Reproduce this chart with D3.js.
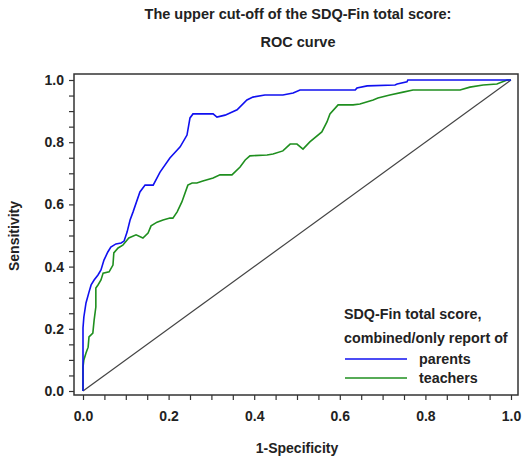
<!DOCTYPE html>
<html><head><meta charset="utf-8">
<script src="https://cdn.jsdelivr.net/npm/d3@7"></script>
<style>body{margin:0;background:#fff}svg{display:block}text{font-family:"Liberation Sans",Arial,sans-serif;fill:#222;font-weight:bold}</style>
</head><body><svg id="c" width="523" height="463"></svg>
<script>
const parentsFpr = [0,0,0,0.002,0.007,0.014,0.019,0.026,0.035,0.042,0.049,0.058,0.065,0.077,0.089,0.096,0.103,0.110,0.117,0.133,0.145,0.164,0.180,0.203,0.227,0.243,0.250,0.257,0.304,0.313,0.332,0.360,0.383,0.397,0.425,0.467,0.491,0.507,0.636,0.640,0.664,0.729,0.734,0.757,0.759,1.0];
const parentsTpr = [0,0.084,0.203,0.238,0.283,0.318,0.341,0.357,0.373,0.389,0.421,0.447,0.463,0.473,0.476,0.482,0.511,0.550,0.576,0.640,0.662,0.662,0.704,0.749,0.785,0.823,0.878,0.891,0.891,0.881,0.887,0.904,0.936,0.945,0.952,0.952,0.958,0.968,0.968,0.974,0.981,0.984,0.987,0.994,1,1];
const teachersFpr = [0,0,0.002,0.007,0.012,0.014,0.023,0.026,0.030,0.030,0.035,0.042,0.047,0.061,0.070,0.072,0.082,0.093,0.107,0.124,0.140,0.152,0.159,0.173,0.187,0.203,0.210,0.220,0.231,0.245,0.255,0.266,0.280,0.304,0.320,0.348,0.367,0.379,0.390,0.430,0.444,0.467,0.484,0.500,0.514,0.530,0.558,0.570,0.577,0.596,0.631,0.647,0.678,0.689,0.717,0.748,0.771,0.881,0.904,0.935,0.967,0.991,1];
const teachersTpr = [0,0.077,0.100,0.122,0.141,0.174,0.186,0.228,0.270,0.331,0.341,0.357,0.379,0.383,0.405,0.444,0.460,0.469,0.492,0.502,0.492,0.508,0.531,0.543,0.550,0.556,0.556,0.576,0.608,0.662,0.669,0.669,0.675,0.685,0.695,0.695,0.720,0.743,0.756,0.759,0.762,0.772,0.794,0.794,0.778,0.801,0.833,0.865,0.891,0.920,0.920,0.923,0.936,0.942,0.952,0.961,0.968,0.968,0.977,0.984,0.987,1,1];
const diagonal = [0,1];
const tickValues = [0,0.05,0.1,0.15,0.2,0.25,0.3,0.35,0.4,0.45,0.5,0.55,0.6,0.65,0.7,0.75,0.8,0.85,0.9,0.95,1];
const tickLabels = ["0.0","0.2","0.4","0.6","0.8","1.0"];
const titleLines = ["The upper cut-off of the SDQ-Fin total score:","ROC curve"];
const legendTitle = ["SDQ-Fin total score,","combined/only report of"];
const seriesNames = ["parents","teachers"];
const colors = ["#1010f0","#1f8f1f"];

const svg = d3.select("#c");
const frame = {l:74, t:74, r:518, b:395};
const x = d3.scaleLinear().domain([0,1]).range([83,511]);
const y = d3.scaleLinear().domain([0,1]).range([391,80]);

const fmt = v => { const i = Math.round(v*20); return i%4===0 ? tickLabels[i/4] : ""; };

const ya = svg.append("g").attr("transform",`translate(${frame.l},0)`)
  .call(d3.axisLeft(y).tickValues(tickValues).tickSize(5).tickPadding(5).tickFormat(fmt));
const xa = svg.append("g").attr("transform",`translate(0,${frame.b})`)
  .call(d3.axisBottom(x).tickValues(tickValues).tickSize(5).tickPadding(11).tickFormat(fmt));
[ya,xa].forEach(a=>{
  a.select(".domain").remove();
  a.selectAll("line").attr("stroke","#333").attr("stroke-width",1.2);
  a.selectAll("text").style("font-size","14px").style("font-weight","bold")
    .style("font-family","Liberation Sans, Arial, sans-serif").attr("fill","#222");
});

svg.append("rect").attr("x",frame.l).attr("y",frame.t).attr("width",frame.r-frame.l).attr("height",frame.b-frame.t)
  .attr("fill","none").attr("stroke","#333").attr("stroke-width",1.5);

const line = d3.line().x(d=>x(d[0])).y(d=>y(d[1]));
svg.append("path").datum(diagonal.map(v=>[v,v])).attr("d",line)
  .attr("fill","none").attr("stroke","#444").attr("stroke-width",1.2);
svg.append("path").datum(teachersFpr.map((v,i)=>[v,teachersTpr[i]])).attr("d",line)
  .attr("fill","none").attr("stroke",colors[1]).attr("stroke-width",1.6);
svg.append("path").datum(parentsFpr.map((v,i)=>[v,parentsTpr[i]])).attr("d",line)
  .attr("fill","none").attr("stroke",colors[0]).attr("stroke-width",1.6);

svg.selectAll(".title").data(titleLines).join("text")
  .attr("x",298).attr("y",(d,i)=>19+i*28).attr("text-anchor","middle")
  .style("font-size","14.5px").text(d=>d);

svg.append("text").attr("x",297).attr("y",453).attr("text-anchor","middle")
  .style("font-size","14px").text("1-Specificity");
svg.append("text").attr("transform","translate(19,236) rotate(-90)").attr("text-anchor","middle")
  .style("font-size","14px").text("Sensitivity");

svg.selectAll(".lt").data(legendTitle).join("text")
  .attr("x",344).attr("y",(d,i)=>319+i*24).style("font-size","14.3px").text(d=>d);
seriesNames.forEach((n,i)=>{
  const yy = 359 + i*19;
  svg.append("line").attr("x1",345).attr("x2",407).attr("y1",yy).attr("y2",yy)
    .attr("stroke",colors[i]).attr("stroke-width",1.6);
  svg.append("text").attr("x",419).attr("y",yy+5).style("font-size","14.3px").text(n);
});
</script></body></html>
